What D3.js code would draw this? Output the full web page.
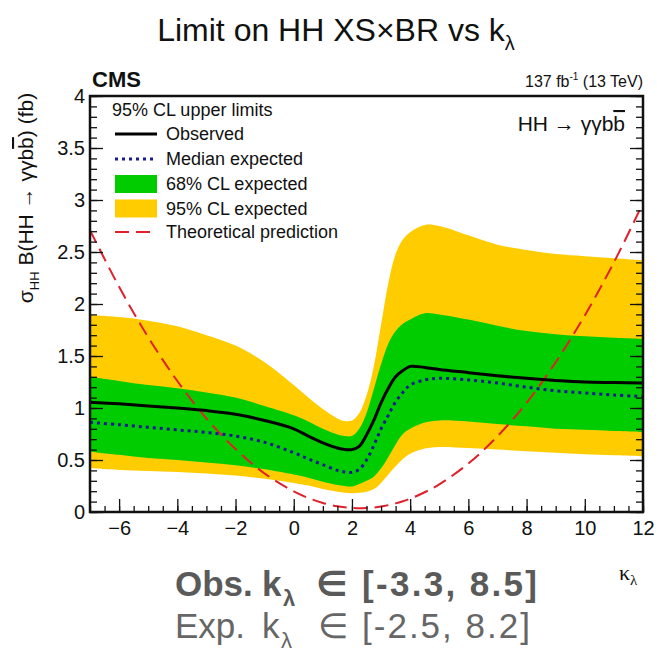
<!DOCTYPE html>
<html><head><meta charset="utf-8">
<script src="https://cdn.jsdelivr.net/npm/d3@7"></script>
<style>
html,body{margin:0;padding:0;background:#fff;}
svg{display:block;font-family:"Liberation Sans",Arial,sans-serif;}
</style></head>
<body><svg id="c" width="661" height="653"></svg>
<script>
// ---- data ----
const kappa    = [-7,-6,-5,-4,-3,-2,-1,0,0.5,1,1.5,1.75,2,2.25,2.5,2.75,3,3.25,3.5,3.75,4,4.5,5,6,7,8,9,10,11,12];
const observed = [1.055,1.04,1.02,1.00,0.975,0.94,0.88,0.80,0.73,0.665,0.615,0.60,0.60,0.63,0.74,0.88,1.05,1.19,1.30,1.36,1.40,1.39,1.37,1.34,1.31,1.285,1.265,1.25,1.245,1.24];
const expected = [0.862,0.84,0.815,0.79,0.765,0.73,0.67,0.57,0.51,0.455,0.40,0.385,0.38,0.41,0.50,0.64,0.80,0.93,1.06,1.15,1.22,1.27,1.285,1.27,1.24,1.20,1.165,1.145,1.125,1.11];
const band68Up = [1.30,1.26,1.22,1.19,1.15,1.10,1.02,0.93,0.87,0.80,0.745,0.73,0.73,0.80,0.95,1.18,1.42,1.62,1.74,1.81,1.85,1.91,1.90,1.85,1.79,1.74,1.71,1.69,1.675,1.665];
const band68Lo = [0.58,0.55,0.52,0.50,0.475,0.45,0.41,0.36,0.33,0.29,0.26,0.25,0.245,0.27,0.30,0.34,0.42,0.53,0.65,0.75,0.80,0.86,0.88,0.87,0.845,0.825,0.80,0.79,0.78,0.77];
const band95Up = [1.895,1.875,1.84,1.785,1.70,1.60,1.44,1.22,1.10,0.99,0.90,0.875,0.88,0.95,1.12,1.40,1.80,2.20,2.48,2.62,2.69,2.76,2.75,2.66,2.57,2.52,2.48,2.46,2.44,2.42];
const band95Lo = [0.42,0.405,0.395,0.385,0.37,0.35,0.32,0.28,0.255,0.22,0.195,0.185,0.18,0.185,0.195,0.22,0.28,0.36,0.44,0.51,0.56,0.61,0.625,0.615,0.60,0.585,0.57,0.555,0.545,0.535];
const theory   = [2.71,2.165,1.68,1.26,0.90,0.605,0.37,0.198,0.135,0.087,0.055,0.045,0.039,0.036,0.038,0.043,0.052,0.066,0.083,0.104,0.128,0.19,0.266,0.466,0.728,1.05,1.44,1.89,2.40,2.97];
const xTicks = [-6,-4,-2,0,2,4,6,8,10,12];
const yTicks = [0,0.5,1,1.5,2,2.5,3,3.5,4];
const legendLabels = ["Observed","Median expected","68% CL expected","95% CL expected","Theoretical prediction"];

// ---- layout ----
const L=90, R=643, T=96, B=512;
const svg = d3.select("#c");
const x = d3.scaleLinear().domain([-7,12]).range([L,R]);
const y = d3.scaleLinear().domain([0,4]).range([B,T]);

const rows = kappa.map((k,i)=>({k,obs:observed[i],exp:expected[i],u68:band68Up[i],l68:band68Lo[i],u95:band95Up[i],l95:band95Lo[i],th:theory[i]}));

svg.append("defs").append("clipPath").attr("id","clip").append("rect")
  .attr("x",L).attr("y",T).attr("width",R-L).attr("height",B-T);
const g = svg.append("g").attr("clip-path","url(#clip)");
const curve = d3.curveCatmullRom.alpha(0.5);

g.append("path").datum(rows).attr("fill","#ffcc00")
  .attr("d", d3.area().curve(curve).x(d=>x(d.k)).y0(d=>y(d.l95)).y1(d=>y(d.u95)));
g.append("path").datum(rows).attr("fill","#00cc00")
  .attr("d", d3.area().curve(curve).x(d=>x(d.k)).y0(d=>y(d.l68)).y1(d=>y(d.u68)));
g.append("path").datum(rows).attr("fill","none").attr("stroke","#e0202a").attr("stroke-width",2)
  .attr("stroke-dasharray","14,7")
  .attr("d", d3.line().curve(curve).x(d=>x(d.k)).y(d=>y(d.th)));
g.append("path").datum(rows).attr("fill","none").attr("stroke","#1a1a90").attr("stroke-width",3)
  .attr("stroke-dasharray","3,4")
  .attr("d", d3.line().curve(curve).x(d=>x(d.k)).y(d=>y(d.exp)));
g.append("path").datum(rows).attr("fill","none").attr("stroke","#000").attr("stroke-width",3)
  .attr("d", d3.line().curve(curve).x(d=>x(d.k)).y(d=>y(d.obs)));

// ---- axes ----
const fmt = d3.format("~g");
const tickFont = 20;
function styleAxis(sel){ sel.select(".domain").remove(); sel.selectAll("line").attr("stroke","#111").attr("stroke-width",1.3); sel.selectAll("text").attr("font-size",tickFont).attr("font-family","Liberation Sans, Arial, sans-serif").attr("fill","#111"); }
svg.append("g").attr("transform",`translate(${L},0)`)
  .call(d3.axisLeft(y).tickValues(yTicks).tickSize(-13).tickPadding(5).tickFormat(fmt)).call(styleAxis);
svg.append("g").attr("transform",`translate(${L},0)`)
  .call(d3.axisLeft(y).tickValues(d3.range(0,4.001,0.1)).tickSize(-7).tickFormat("")).call(styleAxis);
svg.append("g").attr("transform",`translate(${R},0)`)
  .call(d3.axisRight(y).tickValues(yTicks).tickSize(-13).tickFormat("")).call(styleAxis);
svg.append("g").attr("transform",`translate(${R},0)`)
  .call(d3.axisRight(y).tickValues(d3.range(0,4.001,0.1)).tickSize(-7).tickFormat("")).call(styleAxis);
svg.append("g").attr("transform",`translate(0,${B})`)
  .call(d3.axisBottom(x).tickValues(xTicks).tickSize(-13).tickPadding(9).tickFormat(fmt)).call(styleAxis);
svg.append("g").attr("transform",`translate(0,${B})`)
  .call(d3.axisBottom(x).tickValues(d3.range(-7,12.001,0.5)).tickSize(-6).tickFormat("")).call(styleAxis);

svg.append("rect").attr("x",L).attr("y",T).attr("width",R-L).attr("height",B-T)
  .attr("fill","none").attr("stroke","#111").attr("stroke-width",2.5);

// ---- texts ----
const title = svg.append("text").attr("x",336).attr("y",41).attr("text-anchor","middle").attr("font-size",32).attr("fill","#111");
title.append("tspan").text("Limit on HH XS\u00D7BR vs k");
title.append("tspan").attr("font-size",20).attr("dy",9).text("\u03BB");

svg.append("text").attr("x",92).attr("y",87).attr("font-size",22).attr("font-weight","bold").attr("fill","#111").text("CMS");
const lumi = svg.append("text").attr("x",643).attr("y",87).attr("text-anchor","end").attr("font-size",16).attr("fill","#111");
lumi.append("tspan").text("137 fb");
lumi.append("tspan").attr("font-size",10).attr("dy",-7).text("-1");
lumi.append("tspan").attr("dy",7).text(" (13 TeV)");

const proc = svg.append("text").attr("x",625).attr("y",131).attr("text-anchor","end").attr("font-size",21).attr("fill","#111");
proc.append("tspan").text("HH ");
proc.append("tspan").attr("font-family","Liberation Serif, serif").text("\u2192");
proc.append("tspan").text(" \u03B3\u03B3b");
proc.append("tspan").style("text-decoration","overline").text("b");

// y label
const yl = svg.append("text").attr("transform","translate(33,198) rotate(-90)").attr("text-anchor","middle").attr("font-size",21).attr("fill","#111");
yl.append("tspan").text("\u03C3");
yl.append("tspan").attr("font-size",13).attr("dy",6).text("HH");
yl.append("tspan").attr("dy",-6).text(" B(HH ");
yl.append("tspan").attr("font-family","Liberation Serif, serif").text("\u2192");
yl.append("tspan").text(" \u03B3\u03B3b");
yl.append("tspan").style("text-decoration","overline").text("b");
yl.append("tspan").text(") (fb)");

// x label
const xl = svg.append("text").attr("x",619).attr("y",580).attr("font-size",22).attr("font-family","Liberation Serif, serif").attr("fill","#111");
xl.append("tspan").text("\u03BA");
xl.append("tspan").attr("font-size",15).attr("dy",5).text("\u03BB");

// legend
svg.append("text").attr("x",112).attr("y",116).attr("font-size",18).attr("fill","#111").text("95% CL upper limits");
const ly = [134,159,184,208.5,232];
const lg = svg.append("g");
lg.append("line").attr("x1",115).attr("x2",157).attr("y1",ly[0]).attr("y2",ly[0]).attr("stroke","#000").attr("stroke-width",3);
lg.append("line").attr("x1",115).attr("x2",157).attr("y1",ly[1]).attr("y2",ly[1]).attr("stroke","#1a1a90").attr("stroke-width",3).attr("stroke-dasharray","3,4");
lg.append("rect").attr("x",115).attr("y",ly[2]-9).attr("width",42).attr("height",18).attr("fill","#00cc00");
lg.append("rect").attr("x",115).attr("y",ly[3]-9).attr("width",42).attr("height",18).attr("fill","#ffcc00");
lg.append("line").attr("x1",115).attr("x2",157).attr("y1",ly[4]).attr("y2",ly[4]).attr("stroke","#e0202a").attr("stroke-width",2).attr("stroke-dasharray","14,7");
legendLabels.forEach((t,i)=>{
  lg.append("text").attr("x",166).attr("y",ly[i]+6).attr("font-size",18).attr("fill","#111").text(t);
});

// bottom summary
function summary(yb, bold, col, head, kx, lx, ex, range){
  const w = bold ? "bold" : "normal";
  const fs = 35;
  svg.append("text").attr("x",175).attr("y",yb).attr("font-size",fs).attr("font-weight",w).attr("fill",col).text(head);
  svg.append("text").attr("x",kx).attr("y",yb).attr("font-size",fs).attr("font-weight",w).attr("fill",col).text("k");
  svg.append("text").attr("x",lx).attr("y",yb+10).attr("font-size",22).attr("font-weight",w).attr("fill",col).text("\u03BB");
  svg.append("text").attr("x",ex).attr("y",yb).attr("font-size",fs).attr("font-weight",w).attr("fill",col)
    .attr("font-family","DejaVu Sans, sans-serif").text("\u2208");
  svg.append("text").attr("x",range[1]).attr("y",yb).attr("text-anchor","end").attr("font-size",fs).attr("font-weight",w).attr("fill",col)
    .attr("textLength",range[2]).attr("lengthAdjust","spacing").text(range[0]);
}
summary(596, true, "#5a5a5a", "Obs.", 262, 283, 316, ["[-3.3, 8.5]",537,175]);
summary(638, false, "#666", "Exp.", 262, 281, 318, ["[-2.5, 8.2]",530,168]);
</script></body></html>
